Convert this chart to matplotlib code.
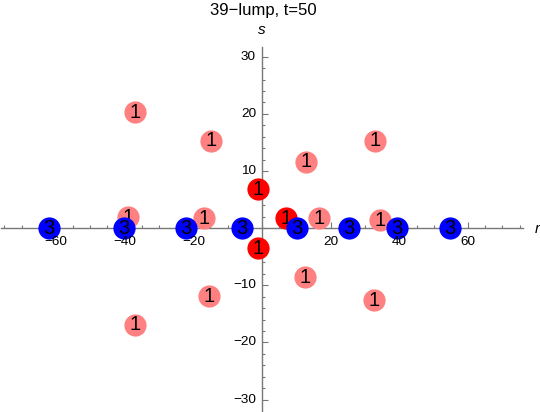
import matplotlib
matplotlib.use("Agg")
import matplotlib.pyplot as plt
from matplotlib.ticker import MultipleLocator
from matplotlib.transforms import offset_copy

plt.rcParams['font.family'] = ['Liberation Sans', 'DejaVu Sans']

# ==== data: lump positions (r, s) ====
pink_r = [-37.0, -14.8, 32.8, 12.9, -38.9, -16.9, 16.7, 34.5, 12.5, 32.6, -15.3, -37.0]
pink_s = [20.3, 15.3, 15.3, 11.6, 1.9, 1.7, 1.7, 1.4, -8.6, -12.6, -11.9, -16.9]
pink_lab = ["1"] * 12

red_r = [-1.2, 7.1, -1.2]
red_s = [6.8, 1.7, -3.5]
red_lab = ["1", "1", "1"]

blue_r = [-62.0, -40.2, -22.2, -5.9, 10.1, 25.3, 39.2, 54.8]
blue_s = [0, 0, 0, 0, 0, 0, 0, 0]
blue_lab = ["3"] * 8

x_ticks = [-60, -40, -20, 20, 40, 60]
y_ticks = [-30, -20, -10, 10, 20, 30]

fig = plt.figure(figsize=(5.40, 4.12), dpi=100)
ax = fig.add_axes([1 / 540, 1.5 / 412, 522 / 540, 363.5 / 412])
ax.set_xlim(-76, 76)
ax.set_ylim(-31.9, 31.7)

axis_col = "#777777"
for side in ["top", "right"]:
    ax.spines[side].set_visible(False)
for side in ["left", "bottom"]:
    ax.spines[side].set_position("zero")
    ax.spines[side].set_color(axis_col)
    ax.spines[side].set_linewidth(1.0)

ax.set_xticks(x_ticks)
ax.set_yticks(y_ticks)
ax.set_xticklabels([])
ax.set_yticklabels([])
ax.xaxis.set_minor_locator(MultipleLocator(5))
ax.yaxis.set_minor_locator(MultipleLocator(2))
ax.tick_params(which="both", direction="in", color=axis_col, width=0.8)
ax.tick_params(which="major", length=4.5)
ax.tick_params(which="minor", length=2.5)

# ==== lumps ====
groups = [(pink_r, pink_s, pink_lab, "#ff8080"),
          (red_r, red_s, red_lab, "#ff0000"),
          (blue_r, blue_s, blue_lab, "#0000ff")]
z = 5
for rr, ss, labs, col in groups:
    ax.plot(rr, ss, "o", color=col, markersize=16, markeredgewidth=0,
            linestyle="none", zorder=z, clip_on=False)
    for x, y, t in zip(rr, ss, labs):
        ax.text(x, y, t, fontsize=14.5, ha="center", va="center",
                color="black", zorder=z + 1)
    z += 2

# tick labels drawn on top of the lumps
xl_tr = offset_copy(ax.transData, fig=fig, x=0, y=-14, units="dots")
for v in x_ticks:
    ax.text(v, 0, f"{v}".replace("-", "\u2212"), transform=xl_tr, fontsize=9.7,
            ha="center", va="center", color="black", zorder=20)
yl_tr = offset_copy(ax.transData, fig=fig, x=-6, y=0, units="dots")
for v in y_ticks:
    ax.text(0, v, f"{v}".replace("-", "\u2212"), transform=yl_tr, fontsize=9.7,
            ha="right", va="center", color="black", zorder=20)

fig.text(263 / 540, 1 - 11 / 412, "39\u2212lump, t=50", fontsize=12,
         ha="center", va="center")
fig.text(262 / 540, 1 - 30 / 412, "s", fontsize=11, style="italic",
         ha="center", va="center")
fig.text(537 / 540, 1 - 229 / 412, "r", fontsize=11, style="italic",
         ha="center", va="center")

fig.savefig("out.png", dpi=100)
